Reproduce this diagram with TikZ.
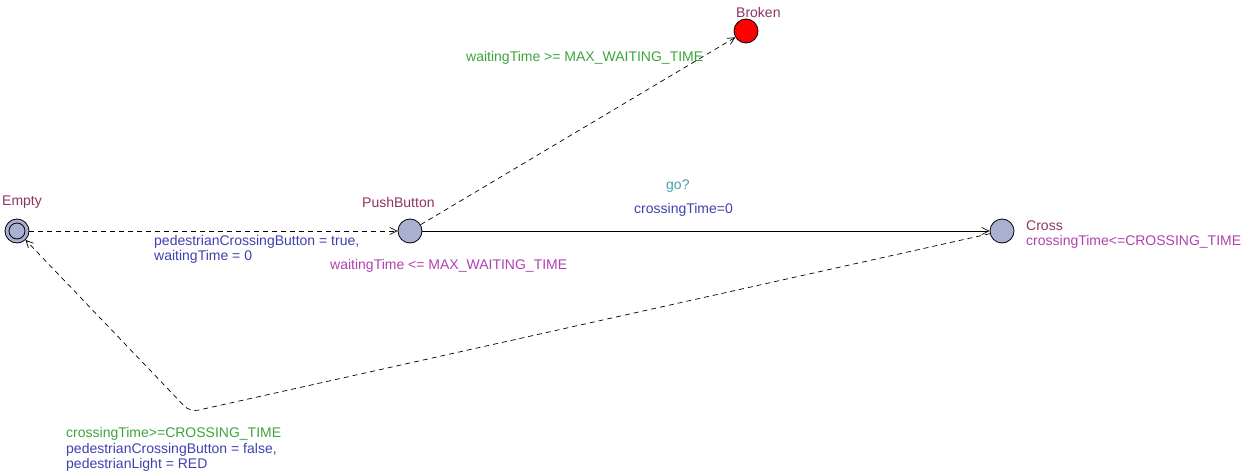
\documentclass[tikz,border=0pt]{standalone}
\usepackage{fontspec}
\setmainfont{Liberation Sans}
\usetikzlibrary{arrows.meta}
\definecolor{locfill}{RGB}{169,176,210}
\definecolor{namecol}{RGB}{142,52,96}
\definecolor{invcol}{RGB}{176,64,176}
\definecolor{guardcol}{RGB}{60,164,60}
\definecolor{assigncol}{RGB}{64,64,176}
\definecolor{synccol}{RGB}{64,160,168}
\tikzset{
  x=1pt, y=-1pt,
  loc/.style={circle, draw=black, fill=locfill, line width=0.8pt, minimum size=24pt, inner sep=0pt},
  txt/.style={anchor=west, inner sep=0pt, font=\fontsize{14}{16}\selectfont},
  lname/.style={txt, text=namecol},
  linv/.style={txt, text=invcol},
  lguard/.style={txt, text=guardcol},
  lassign/.style={txt, text=assigncol},
  lsync/.style={txt, text=synccol},
  edge/.style={line width=0.7pt, -{Straight Barb[length=7pt,width=7pt]}},
  dsh/.style={dash pattern=on 5pt off 4pt},
}
\begin{document}
\begin{tikzpicture}
\useasboundingbox (0,0) rectangle (1244,473);
% locations
\node[loc] (empty) at (17,231) {};
\node[circle, draw=black, line width=0.8pt, minimum size=16pt, inner sep=0pt] (emptyinner) at (17,231) {};
\node[loc] (push) at (410,231) {};
\node[loc] (cross) at (1002,231) {};
\node[loc, fill=red] (broken) at (746,31) {};
% names
\node[lname] (nEmpty) at (2,202) {Empty};
\node[lname] (nPush) at (362,202) {PushButton};
\node[lname] (nCross) at (1026,226) {Cross};
\node[lname] (nBroken) at (736,12) {Broken};
% invariants
\node[linv] (iCross) at (1026,242) {crossingTime<=CROSSING\_TIME};
\node[linv] (iPush) at (330,266) {waitingTime <= MAX\_WAITING\_TIME};
% edges
\draw[edge, dsh] (empty) -- (push);
\draw[edge, dsh] (push) -- (broken);
\draw[edge] (push) -- (cross);
\coordinate (corner) at (190,412);
\draw[edge, dsh, rounded corners=8pt] (cross) -- (corner) -- (empty);
% edge labels
\node[lassign] (a1) at (154,242) {pedestrianCrossingButton = true,};
\node[lassign] (a2) at (154,257) {waitingTime = 0};
\node[lguard] (g1) at (466,58) {waitingTime >= MAX\_WAITING\_TIME};
\node[lsync] (s1) at (666,186) {go?};
\node[lassign] (a3) at (634,210) {crossingTime=0};
\node[lguard] (g2) at (66,434) {crossingTime>=CROSSING\_TIME};
\node[lassign] (a4) at (66,450) {pedestrianCrossingButton = false,};
\node[lassign] (a5) at (66,465) {pedestrianLight = RED};
\end{tikzpicture}
\end{document}
